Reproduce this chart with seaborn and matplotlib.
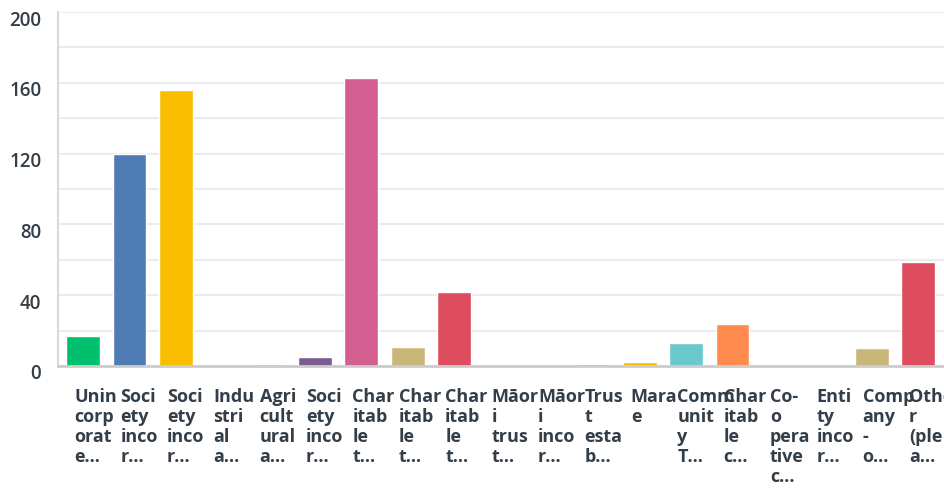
import matplotlib
matplotlib.use("Agg")
import matplotlib.pyplot as plt
import matplotlib.transforms as mtransforms
from matplotlib.ticker import MultipleLocator
import seaborn as sns
import pandas as pd
import numpy as np

# labels as shown under the bars (already wrapped / truncated)
labels = [
    "Unin\ncorp\norat\ne…",
    "Soci\nety\ninco\nr…",
    "Soci\nety\ninco\nr…",
    "Indu\nstri\nal\na…",
    "Agri\ncult\nural\na…",
    "Soci\nety\ninco\nr…",
    "Char\nitab\nle\nt…",
    "Char\nitab\nle\nt…",
    "Char\nitab\nle\nt…",
    "Māor\ni\ntrus\nt…",
    "Māor\ni\ninco\nr…",
    "Trus\nt\nesta\nb…",
    "Mara\ne",
    "Comm\nunit\ny\nT…",
    "Char\nitab\nle\nc…",
    "Co-\no\npera\ntive\nc…",
    "Enti\nty\ninco\nr…",
    "Comp\nany\n-\no…",
    "Othe\nr\n(ple\na…",
]
counts = [17, 120, 156, 0, 1, 5, 163, 11, 42, 0, 0, 1, 2, 13, 24, 0, 0, 10, 59]

base_colors = ["#00BF6F", "#507CB6", "#F9BE00", "#6BC8CD", "#FF8B4F",
               "#7D5D90", "#D25F90", "#C9B77A", "#DE4D5D", "#333E48"]
colors = [base_colors[i % len(base_colors)] for i in range(len(counts))]

df = pd.DataFrame({"pos": np.arange(len(counts)), "count": counts})

sns.set_style("white")
plt.rcParams['font.family'] = ['Open Sans', 'DejaVu Sans']

fig = plt.figure(figsize=(9.45, 5.03), dpi=100)
ax = fig.add_axes([0.0614, 0.2724, 0.9386, 0.7036])

sns.barplot(data=df, x="pos", y="count", hue="pos", palette=colors,
            legend=False, width=0.73, saturation=1, ax=ax)

ax.set_xlim(-0.54, 18.58)
ax.set_ylim(0, 200)
ax.yaxis.set_major_locator(MultipleLocator(40))
ax.yaxis.set_minor_locator(MultipleLocator(20))
ax.grid(axis="y", which="both", color="#ececec", linewidth=1.5, zorder=0)
ax.set_axisbelow(True)
ax.tick_params(axis="both", which="both", length=0)
ax.tick_params(axis="y", labelsize=13.5, labelcolor="#333E48", pad=12)
for lab in ax.get_yticklabels():
    lab.set_fontweight("semibold")

ax.set_xticks(range(len(labels)))
ax.set_xticklabels(labels, fontsize=13, fontweight="bold", color="#333E48",
                   ha="left", va="top", linespacing=1.15)
offset = mtransforms.ScaledTranslation(-0.09, -0.17, fig.dpi_scale_trans)
for lab in ax.get_xticklabels():
    lab.set_transform(lab.get_transform() + offset)
for lab in ax.get_yticklabels():
    lab.set_transform(lab.get_transform() + mtransforms.ScaledTranslation(0, -0.06, fig.dpi_scale_trans))

ax.set_xlabel("")
ax.set_ylabel("")
for s in ["top", "right"]:
    ax.spines[s].set_visible(False)
ax.spines["left"].set_color("#d9d9d9")
ax.spines["left"].set_linewidth(1.5)
ax.spines["bottom"].set_color("#cccccc")
ax.spines["bottom"].set_linewidth(2)

fig.savefig("out.png", dpi=100)
